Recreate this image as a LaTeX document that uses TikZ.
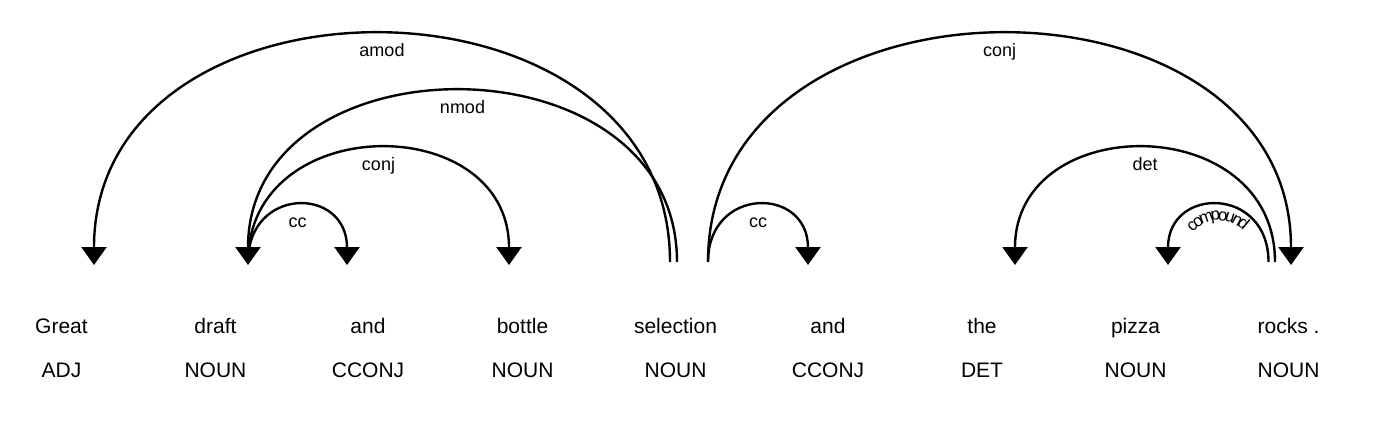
\documentclass[tikz,border=0pt]{standalone}
\usepackage{fontspec}
\setmainfont{Liberation Sans}
\usetikzlibrary{arrows.meta,decorations.text}

\tikzset{
  tok/.style={anchor=base,inner sep=0pt,font=\fontsize{21pt}{25pt}\selectfont},
  postag/.style={tok},
  deparc/.style={line width=2.4pt,-{Triangle[width=25pt,length=18pt]}},
  arclabel/.style={anchor=base,yshift=-22pt,inner sep=0pt,font=\fontsize{18pt}{21pt}\selectfont},
}

\begin{document}
\begin{tikzpicture}[x=1pt,y=-1pt]

  \useasboundingbox (0,0) rectangle (1384,422);

  % words
  \node[tok] (great)  at (61.5,333)   {Great};
  \node[tok] (draft)  at (215.5,333)  {draft};
  \node[tok] (and)    at (368,333)    {and};
  \node[tok] (bottle) at (522.5,333)  {bottle};
  \node[tok] (sel)    at (675.5,333)  {selection};
  \node[tok] (and2)   at (828,333)    {and};
  \node[tok] (the)    at (982,333)    {the};
  \node[tok] (pizza)  at (1135.5,333) {pizza};
  \node[tok] (rocks)  at (1288.5,333) {rocks .};

  % tags
  \node[postag] (great-tag)  at (61.5,377)   {ADJ};
  \node[postag] (draft-tag)  at (215.5,377)  {NOUN};
  \node[postag] (and-tag)    at (368,377)    {CCONJ};
  \node[postag] (bottle-tag) at (522.5,377)  {NOUN};
  \node[postag] (sel-tag)    at (675.5,377)  {NOUN};
  \node[postag] (and2-tag)   at (828,377)    {CCONJ};
  \node[postag] (the-tag)    at (982,377)    {DET};
  \node[postag] (pizza-tag)  at (1135.5,377) {NOUN};
  \node[postag] (rocks-tag)  at (1288.5,377) {NOUN};

  % arc ends
  \coordinate (great-in)  at (94,265);
  \coordinate (draft-in)  at (248,265);
  \coordinate (draft-out) at (248,262);
  \coordinate (and-in)    at (347,265);
  \coordinate (bottle-in) at (509,265);
  \coordinate (sel-amod)  at (670,262);
  \coordinate (sel-nmod)  at (677,262);
  \coordinate (sel-out)   at (708,262);
  \coordinate (and2-in)   at (808,265);
  \coordinate (the-in)    at (1015,265);
  \coordinate (pizza-in)  at (1168,265);
  \coordinate (rocks-cmp) at (1268.5,262);
  \coordinate (rocks-det) at (1275,262);
  \coordinate (rocks-in)  at (1291,265);

  % level 1
  \draw[deparc] (draft-out) .. controls (draft-out |- 0,186) and (and-in |- 0,186) .. (and-in)
    node[pos=0.5,arclabel] (cc-lbl) {cc};
  \draw[deparc] (sel-out) .. controls (sel-out |- 0,186) and (and2-in |- 0,186) .. (and2-in)
    node[pos=0.5,arclabel] (cc2-lbl) {cc};
  \draw[deparc] (rocks-cmp) .. controls (rocks-cmp |- 0,186) and (pizza-in |- 0,186) .. (pizza-in);
  \path[decorate,decoration={text along path,text align=center,raise=-15pt,
      text={|\fontsize{17pt}{20pt}\selectfont|compound}}]
    (pizza-in) .. controls (pizza-in |- 0,186) and (rocks-cmp |- 0,186) .. (rocks-cmp);

  % level 2
  \draw[deparc] (draft-out) .. controls (draft-out |- 0,110) and (bottle-in |- 0,110) .. (bottle-in)
    node[pos=0.5,arclabel] (conj-lbl) {conj};
  \draw[deparc] (rocks-det) .. controls (rocks-det |- 0,110) and (the-in |- 0,110) .. (the-in)
    node[pos=0.5,arclabel] (det-lbl) {det};

  % level 3
  \draw[deparc] (sel-nmod) .. controls (sel-nmod |- 0,34) and (draft-in |- 0,34) .. (draft-in)
    node[pos=0.5,arclabel] (nmod-lbl) {nmod};

  % level 4
  \draw[deparc] (sel-amod) .. controls (sel-amod |- 0,-42) and (great-in |- 0,-42) .. (great-in)
    node[pos=0.5,arclabel] (amod-lbl) {amod};
  \draw[deparc] (sel-out) .. controls (sel-out |- 0,-42) and (rocks-in |- 0,-42) .. (rocks-in)
    node[pos=0.5,arclabel] (conj2-lbl) {conj};

\end{tikzpicture}
\end{document}
